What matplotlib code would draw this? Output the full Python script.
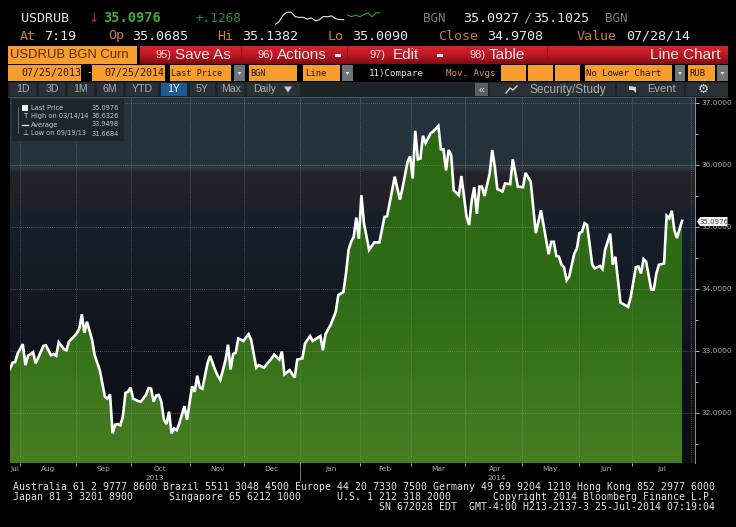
import matplotlib
matplotlib.use('Agg')
import matplotlib.pyplot as plt
import numpy as np
from matplotlib.patches import Rectangle, Polygon
from matplotlib.colors import to_rgb

# trading day number counted from 07/25/2013, and last price
days = [0, 1, 2, 3, 5, 6, 7, 9, 10, 11, 13, 14, 16, 17, 18, 19, 21, 22, 23, 24,
        26, 27, 28, 29, 30, 32, 33, 35, 37, 38, 39, 40, 41, 42, 43, 44, 45, 46, 47, 48,
        50, 51, 53, 54, 55, 56, 57, 58, 59, 60, 61, 62, 63, 64, 65, 66, 68, 69, 71, 72,
        73, 74, 75, 77, 78, 80, 81, 82, 84, 85, 86, 87, 88, 89, 91, 93, 94, 96, 97, 99,
        101, 102, 103, 105, 106, 107, 109, 111, 112, 114, 115, 117, 118, 121, 122, 123, 125, 127, 128, 130,
        131, 132, 133, 134, 135, 136, 137, 138, 140, 142, 144, 146, 147, 148, 150, 152, 153, 155, 156, 157,
        158, 159, 160, 161, 162, 164, 165, 167, 168, 169, 170, 171, 172, 173, 175, 176, 178, 179, 180, 181,
        182, 183, 184, 185, 187, 188, 189, 190, 192, 193, 195, 196, 198, 200, 201, 203, 205, 207, 210, 211,
        212, 213, 214, 215, 216, 217, 218, 220, 221, 222, 223, 224, 225, 227, 228, 230, 231, 232, 234, 235,
        236, 238, 241, 242, 244, 245, 246, 247, 248, 250, 251, 252, 253, 255, 256, 257, 258, 259, 260, 262]
price = [32.71, 32.81, 32.82, 32.96, 33.11, 32.77, 32.92, 32.98, 32.80, 32.89, 33.08, 33.09, 32.93, 32.95, 32.92, 33.14, 33.03, 33.01, 33.15, 33.19,
         33.28, 33.36, 33.59, 33.29, 33.47, 33.18, 32.93, 32.69, 32.26, 32.23, 32.30, 31.67, 31.81, 31.82, 31.80, 31.94, 32.32, 32.34, 32.41, 32.23,
         32.19, 32.18, 32.29, 32.40, 32.39, 32.18, 32.28, 32.29, 32.18, 31.89, 31.82, 32.02, 31.67, 31.75, 31.72, 31.83, 32.11, 31.89, 32.43, 32.34,
         32.60, 32.41, 32.39, 32.80, 32.92, 32.69, 32.60, 32.53, 32.85, 33.10, 32.70, 32.95, 32.97, 33.20, 33.16, 33.27, 33.18, 32.73, 32.77, 32.73,
         32.83, 32.88, 32.94, 32.86, 32.99, 32.62, 32.69, 32.57, 32.86, 32.88, 33.12, 33.24, 33.16, 33.24, 33.01, 33.27, 33.42, 33.63, 33.90, 33.95,
         34.25, 34.63, 34.76, 34.84, 35.15, 34.81, 35.51, 35.06, 34.63, 34.75, 34.75, 35.16, 35.17, 35.38, 35.81, 35.44, 35.62, 36.05, 36.14, 35.78,
         36.55, 36.09, 36.10, 36.47, 36.35, 36.51, 36.54, 36.63, 36.25, 36.25, 35.91, 36.24, 36.16, 35.59, 35.51, 35.82, 35.16, 35.03, 35.43, 35.64,
         35.21, 35.65, 35.65, 35.50, 35.86, 36.24, 35.97, 35.61, 35.57, 35.70, 35.69, 36.09, 35.65, 35.64, 35.87, 35.73, 34.90, 35.27, 34.56, 34.76,
         34.76, 34.53, 34.52, 34.39, 34.35, 34.14, 34.20, 34.57, 34.65, 34.90, 34.92, 35.06, 35.03, 34.39, 34.33, 34.37, 34.32, 34.63, 34.89, 34.39,
         34.52, 33.78, 33.71, 33.87, 34.35, 34.36, 34.25, 34.48, 34.44, 33.99, 33.99, 34.25, 34.39, 34.41, 35.18, 35.14, 35.26, 34.95, 34.82, 35.0976]

month_ticks = [3.9, 25.7, 47.2, 70.2, 91.2, 113, 136.5, 156.3, 177.4, 199.6, 221.8, 242.5]
month_label_pos = [2, 15, 36.5, 58.5, 80.7, 102, 125, 146, 167, 189, 210.6, 232.5, 254]
month_labels = ['Jul', 'Aug', 'Sep', 'Oct', 'Nov', 'Dec', 'Jan', 'Feb', 'Mar', 'Apr', 'May', 'Jun', 'Jul']
price_ticks = [32, 33, 34, 35, 36, 37]
minor_price_ticks = [31.5, 32.5, 33.5, 34.5, 35.5, 36.5]

spark_white = [5, 15, 38, 48, 48, 32, 30, 30, 24, 28, 18, 22, 33, 32, 35, 25, 22, 22]
spark_green = [38, 32, 38, 32, 40, 45, 32, 45, 46]

legend_names = ['Last Price', 'High on 03/14/14', 'Average', 'Low on 09/19/13']
legend_values = ['35.0976', '36.6326', '33.9498', '31.6684']

W, H = 736, 527
ORANGE = '#f79d2d'
GREY = '#a8acae'
MONO = 'DejaVu Sans Mono'
SANS = 'Liberation Sans'


def vgrad(stops_y, stops_c, y0, y1, n=400):
    ys = np.linspace(y0, y1, n)
    cols = np.array([to_rgb(c) for c in stops_c])
    img = np.stack([np.interp(ys, stops_y, cols[:, i]) for i in range(3)], axis=1)
    return img[:, None, :]


def chart_y(px):
    return 35 + (226.9 - px) / 62


fig = plt.figure(figsize=(W / 100, H / 100), dpi=100, facecolor='black')

# main chart
ax = fig.add_axes([10 / W, (H - 463) / H, (695 - 10) / W, (463 - 97) / H])
ax.set_facecolor('black')
xmax = (695 - 10) / 2.565
ymin, ymax = chart_y(463), chart_y(97)
bg = vgrad([97, 160, 168, 172, 205, 216, 290, 360, 463],
           ['#26343f', '#24323c', '#2c3942', '#25232a', '#211f27', '#16202c', '#131a24', '#10121a', '#0c0d12'],
           97, 463)
ax.imshow(bg, extent=[0, xmax, ymin, ymax], aspect='auto', zorder=0)

green = vgrad([97, 300, 360, 463], ['#2d6814', '#306b16', '#38731b', '#467d22'], 97, 463)
im = ax.imshow(green, extent=[0, xmax, ymin, ymax], aspect='auto', zorder=1)
poly = Polygon(list(zip([days[0]] + days + [days[-1]], [ymin] + price + [ymin])),
               closed=True, transform=ax.transData, fc='none', ec='none')
ax.add_patch(poly)
im.set_clip_path(poly)

for t in month_ticks:
    ax.axvline(t, color='#9aa0a0', lw=0.6, ls=(0, (1, 1.5)), alpha=0.55, zorder=2)
for v in price_ticks:
    ax.axhline(v, color='#b8bcbc', lw=0.6, ls=(0, (1, 1.5)), alpha=0.5, zorder=2)
ax.axvline(xmax - 1.5, color='#9aa0a0', lw=0.6, ls=(0, (1, 1.5)), alpha=0.6, zorder=2)

ax.plot(days, price, color='white', lw=1.9, solid_joinstyle='miter', zorder=3)

ax.set_xlim(0, xmax)
ax.set_ylim(ymin, ymax)
ax.set_xticks(month_ticks, [''] * len(month_ticks))
ax.set_xticks(month_label_pos, month_labels, minor=True)
ax.tick_params(axis='x', which='major', length=2, color='#c0c0c0', width=0.6)
ax.tick_params(axis='x', which='minor', length=0, pad=2, labelsize=5.3, labelcolor=GREY)
ax.yaxis.tick_right()
ax.set_yticks(price_ticks, ['%.4f' % v for v in price_ticks])
ax.set_yticks(minor_price_ticks, minor=True)
ax.tick_params(axis='y', which='major', length=3, color='#d0d0d0', width=0.6, pad=2,
               labelsize=5.4, labelcolor=GREY)
ax.tick_params(axis='y', which='minor', length=2, color='#d0d0d0', width=0.6)
for s in ['top', 'left', 'bottom']:
    ax.spines[s].set_visible(False)
ax.spines['right'].set_color('#8a9090')
ax.spines['right'].set_linewidth(0.7)

# everything around the chart, in pixel coordinates
ui = fig.add_axes([0, 0, 1, 1], zorder=5)
ui.set_xlim(0, W)
ui.set_ylim(H, 0)
ui.axis('off')


def box(x0, y0, x1, y1, color, **kw):
    ui.add_patch(Rectangle((x0, y0), x1 - x0, y1 - y0, fc=color, ec=kw.pop('ec', 'none'), **kw))


def txt(x, y, s, color='white', size=9.6, family=MONO, ha='left', **kw):
    ui.text(x, y, s, color=color, fontsize=size, family=family, ha=ha, va='center', **kw)


# header lines
txt(21, 18, 'USDRUB', '#e8e8e8')
txt(88, 18, '↓', '#d8222a', size=9, family='DejaVu Sans')
txt(103, 18, '35.0976', '#3fa83c', fontweight='bold', size=9.8)
txt(196, 18, '+.1268', '#2f8f33', size=9.2)
txt(423, 18, 'BGN', '#7d7d7d', size=9)
txt(463, 18, '35.0927', '#e8e8e8')
txt(523, 18, '/', '#9a9a9a')
txt(533, 18, '35.1025', '#e8e8e8')
txt(605, 18, 'BGN', '#7d7d7d', size=9)

for x, s, c in [(20, 'At', '#c87d3c'), (44, '7:19', '#e8e8e8'), (108, 'Op', '#c87d3c'),
                (132, '35.0685', '#e8e8e8'), (217, 'Hi', '#c87d3c'), (242, '35.1382', '#e8e8e8'),
                (328, 'Lo', '#c87d3c'), (352, '35.0090', '#e8e8e8'), (438, 'Close', '#c87d3c'),
                (487, '34.9708', '#e8e8e8'), (577, 'Value', '#c87d3c'), (626, '07/28/14', '#e8e8e8')]:
    txt(x, 36, s, c)

# sparkline
sp = fig.add_axes([275 / W, (H - 26) / H, 105 / W, 15 / H], zorder=6)
sp.axis('off')
sp.plot(range(len(spark_white)), spark_white, color='#e8e8e8', lw=0.8)
sp.plot(np.arange(len(spark_green)) + len(spark_white), spark_green, color='#2ea32e', lw=0.8)
sp.set_xlim(0, len(spark_white) + len(spark_green) - 1)
sp.set_ylim(0, 52)

# red toolbar
ui.imshow(vgrad([46, 54, 64], ['#d8232f', '#c01a26', '#7e0c14'], 46, 64),
          extent=[140, 728, 64, 46], aspect='auto', zorder=1)
ui.set_xlim(0, W)
ui.set_ylim(H, 0)
box(8, 46, 137, 64, ORANGE)
txt(10, 55.5, 'USDRUB BGN Curn', '#5a2c00', size=9.4, family=SANS)
for x in [241, 347, 547]:
    ui.plot([x, x], [46, 64], color='#8a1018', lw=0.6, zorder=2)
for x, s in [(155, '95)'), (258, '96)'), (369, '97)'), (469, '98)')]:
    txt(x, 55, s, '#f0e0e0', size=8, family=SANS, zorder=3)
for x, s in [(175, 'Save As'), (277, 'Actions'), (393, 'Edit'), (489, 'Table'), (650, 'Line Chart')]:
    txt(x, 55, s, '#f4e8e8', size=11, family=SANS, zorder=3)
for x in [338, 440]:
    box(x - 3, 53.5, x + 3, 57, '#e8e8e8', zorder=3)

# orange option row
for x0, x1 in [(8, 81), (92, 165), (170, 231), (249, 297), (303, 340), (501, 526), (528, 553),
               (555, 580), (585, 672), (688, 715)]:
    box(x0, 65, x1, 81, ORANGE)
for x0, x1 in [(234, 245), (342, 353), (675, 685), (717, 728)]:
    box(x0, 65, x1, 81, '#6d7478')
    ui.add_patch(Polygon([((x0 + x1) / 2 - 2, 72), ((x0 + x1) / 2 + 2, 72), ((x0 + x1) / 2, 75)],
                         fc='#e0e0e0', ec='none'))
for x, s, size in [(21, '07/25/2013', 7.2), (104, '07/25/2014', 7.2), (171, 'Last Price', 6.1),
                   (250, 'BGN', 6.1), (305, 'Line', 6.4), (586, 'No Lower Chart', 6.5), (689, 'RUB', 6.4)]:
    txt(x, 73, s, '#2a1400', size=size)
txt(86, 73, '-', '#f0e0c0', size=6.6)
txt(369, 73, '11)Compare', '#e4e4e4', size=6.6)
txt(446, 73, 'Mov. Avgs', '#d8905c', size=6.6)

# period buttons row
box(8, 82, 728, 96.5, '#1d2428')
for x0, x1, s in [(10, 36, '1D'), (39, 65, '3D'), (68, 94, '1M'), (97, 123, '6M'), (126, 158, 'YTD'),
                  (161, 187, '1Y'), (190, 215, '5Y'), (218, 244, 'Max')]:
    box(x0, 83, x1, 96, '#1f5a94' if s == '1Y' else '#2a3136')
    txt((x0 + x1) / 2, 89.5, s, '#ffffff' if s == '1Y' else GREY, size=7.6, family=SANS, ha='center')
box(247, 83, 300, 96, '#2a3136')
txt(253, 89.5, 'Daily', GREY, size=7.4, family=SANS)
ui.add_patch(Polygon([(284, 86.5), (292, 86.5), (288, 92.5)], fc='#c8ccce', ec='none'))
box(475, 83, 488, 96, '#5a5f62')
txt(481.5, 89.5, '«', '#e0e0e0', size=7.4, family=SANS, ha='center')
box(490, 83, 615, 96, '#2a3136')
box(617, 83, 684, 96, '#2a3136')
box(686, 83, 728, 96, '#2a3136')
txt(529, 89.5, 'Security/Study', GREY, size=8.6, family=SANS)
txt(647, 89.5, 'Event', GREY, size=8, family=SANS)
txt(703, 89.5, '⚙', '#d0d0d0', size=9, family='DejaVu Sans', ha='center')
ui.plot([506, 510, 513, 517], [93, 88, 90, 86], color='#d8d8d8', lw=1)
ui.add_patch(Polygon([(629, 86), (636, 87), (636, 93), (633, 90), (629, 90)], fc='#d8d8d8', ec='none'))
ui.plot([8, 728], [97, 97], color='#50585c', lw=0.6)

# legend panel
box(11, 98, 124, 141, '#1b252c', ec='#2c363c', lw=0.5)
for y, name, val in zip([107.5, 116, 124.5, 133.5], legend_names, legend_values):
    txt(31, y, name, '#c4c8ca', size=4.8, family='DejaVu Sans')
    txt(119, y, val, '#c4c8ca', size=4.8, family='DejaVu Sans', ha='right')
box(22, 105, 28, 110.5, '#f2f2f2')
ui.plot([18, 18], [107, 133], color='#80888c', lw=0.5)
txt(25, 115.5, 'T', '#e0e0e0', size=5, family='DejaVu Sans', ha='center')
ui.plot([22, 28], [124.5, 124.5], color='#e0e0e0', lw=1)
txt(25, 133, '⊥', '#e0e0e0', size=5, family='DejaVu Sans', ha='center')

# last value tag, years
ui.add_patch(Polygon([(697, 221.5), (700, 217), (727.5, 217), (727.5, 226), (700, 226)],
                     fc='#f0f0f0', ec='none', zorder=3))
txt(714, 221.5, '35.0976', '#505050', size=5, family='DejaVu Sans', ha='center', zorder=4)
txt(155, 478, '2013', GREY, size=5.2, family='DejaVu Sans', ha='center')
txt(497, 478, '2014', GREY, size=5.2, family='DejaVu Sans', ha='center')
ui.plot([300, 300], [463, 480], color='#8a8a8a', lw=0.6)

# footer
txt(13, 487.5, 'Australia 61 2 9777 8600 Brazil 5511 3048 4500 Europe 44 20 7330 7500 '
    'Germany 49 69 9204 1210 Hong Kong 852 2977 6000', '#e4e4e4', size=7.1)
txt(13, 497.5, 'Japan 81 3 3201 8900      Singapore 65 6212 1000      U.S. 1 212 318 2000       '
    'Copyright 2014 Bloomberg Finance L.P.', '#e4e4e4', size=7.1)
txt(715, 507.5, 'SN 672028 EDT  GMT-4:00 H213-2137-3 25-Jul-2014 07:19:04', '#e4e4e4', size=7.1, ha='right')

fig.savefig('out.png', dpi=100, facecolor='black')
